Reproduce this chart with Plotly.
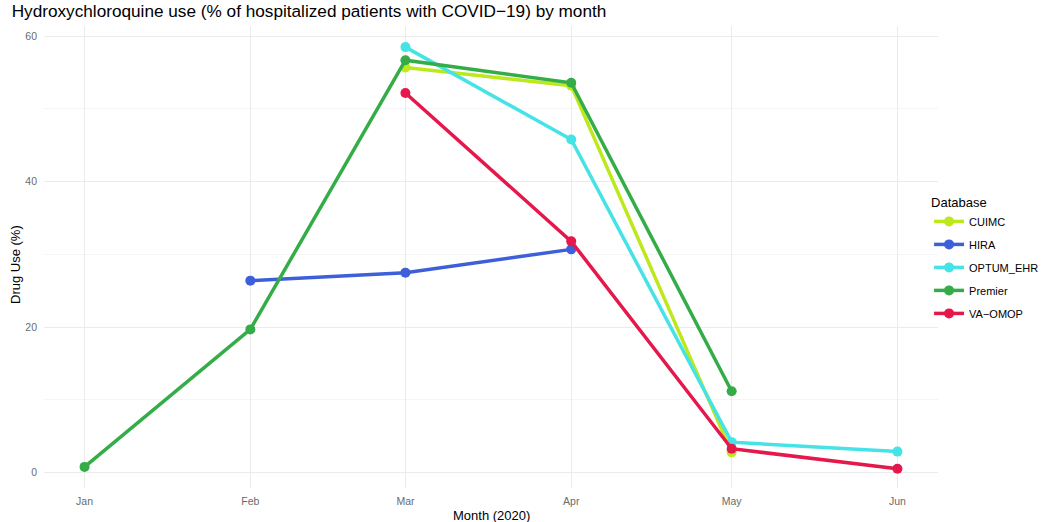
import plotly.graph_objects as go

# Monthly hydroxychloroquine use (% of hospitalized COVID-19 patients) per database
months = ["2020-01-01", "2020-02-01", "2020-03-01", "2020-04-01", "2020-05-01", "2020-06-01"]
month_labels = ["Jan", "Feb", "Mar", "Apr", "May", "Jun"]

cuimc_months = ["2020-03-01", "2020-04-01", "2020-05-01"]
cuimc_use = [55.7, 53.2, 2.8]

hira_months = ["2020-02-01", "2020-03-01", "2020-04-01"]
hira_use = [26.4, 27.5, 30.7]

optum_months = ["2020-03-01", "2020-04-01", "2020-05-01", "2020-06-01"]
optum_use = [58.5, 45.8, 4.2, 2.9]

premier_months = ["2020-01-01", "2020-02-01", "2020-03-01", "2020-04-01", "2020-05-01"]
premier_use = [0.8, 19.7, 56.7, 53.6, 11.2]

va_months = ["2020-03-01", "2020-04-01", "2020-05-01", "2020-06-01"]
va_use = [52.2, 31.8, 3.3, 0.55]

y_ticks = [0, 20, 40, 60]

series = [
    ("CUIMC", cuimc_months, cuimc_use, "#bde81c"),
    ("HIRA", hira_months, hira_use, "#3d5fd8"),
    ("OPTUM_EHR", optum_months, optum_use, "#45e3e6"),
    ("Premier", premier_months, premier_use, "#34ad48"),
    ("VA\u2212OMOP", va_months, va_use, "#e6174b"),
]

fig = go.Figure()
for name, xs, ys, color in series:
    fig.add_trace(go.Scatter(
        x=xs, y=ys, name=name, legendgroup=name, mode="lines+markers",
        line=dict(color=color, width=3.5),
        marker=dict(color=color, size=10),
    ))

grid_major = "#ebebeb"
grid_minor = "#f5f5f5"
label_font = dict(size=13, color="#000000")

fig.update_layout(
    width=1057, height=522,
    paper_bgcolor="white", plot_bgcolor="white",
    margin=dict(l=44, r=119, t=25.5, b=33.5, autoexpand=False),
    font=dict(family="Liberation Sans, Arial, sans-serif", color="#000000"),
    title=dict(
        text="Hydroxychloroquine use (% of hospitalized patients with COVID\u221219) by month",
        x=0.011, xanchor="left", y=0.99, yanchor="top",
        font=dict(size=17.2, color="#000000"),
    ),
    showlegend=True,
    legend=dict(
        title=dict(text="Database", font=dict(size=13)),
        font=dict(size=11),
        x=0.99, xanchor="left", y=0.645, yanchor="top",
        tracegroupgap=4, itemwidth=30,
        bgcolor="rgba(0,0,0,0)",
    ),
    xaxis=dict(
        type="date",
        range=["2019-12-24 10:00", "2020-06-08 14:00"],
        tickvals=months, ticktext=month_labels,
        tickfont=dict(size=10.5, color="#6b6b6b"),
        showgrid=True, gridcolor=grid_major, gridwidth=1.2,
        zeroline=False, showline=False, ticks="",
        ticklabelstandoff=5, automargin=False,
    ),
    yaxis=dict(
        range=[-2.1, 61.4],
        tickvals=y_ticks,
        tickfont=dict(size=10.5, color="#6b6b6b"),
        showgrid=True, gridcolor=grid_major, gridwidth=1.2,
        minor=dict(dtick=10, tick0=10, showgrid=True, gridcolor=grid_minor, gridwidth=1),
        zeroline=False, showline=False, ticks="",
        ticklabelstandoff=6, automargin=False,
    ),
    annotations=[
        dict(text="Month (2020)", xref="paper", yref="paper",
             x=0.5, y=0, yshift=-27, xanchor="center", yanchor="middle",
             showarrow=False, font=label_font),
        dict(text="Drug Use (%)", xref="paper", yref="paper",
             x=0, xshift=-29, y=0.5, yshift=-8, textangle=-90,
             xanchor="center", yanchor="middle",
             showarrow=False, font=label_font),
    ],
)

fig.write_html("out.html")
